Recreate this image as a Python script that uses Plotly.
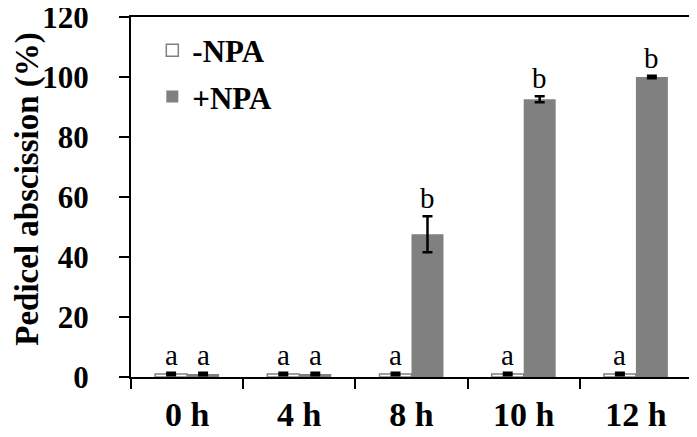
import plotly.graph_objects as go

categories = ["0 h", "4 h", "8 h", "10 h", "12 h"]
minus_npa = [1.0, 1.0, 1.0, 1.0, 1.0]
minus_err = [0.4, 0.4, 0.4, 0.4, 0.4]
plus_npa = [1.0, 1.0, 47.6, 92.6, 100.0]
plus_err = [0.4, 0.4, 6.0, 1.0, 0.4]
minus_letters = ["a", "a", "a", "a", "a"]
plus_letters = ["a", "a", "b", "b", "b"]
y_ticks = [0, 20, 40, 60, 80, 100, 120]
y_title = "Pedicel abscission (%)"

SERIF = "Liberation Serif, Times New Roman, serif"

fig = go.Figure()
fig.add_trace(go.Bar(
    x=categories, y=minus_npa, name="-NPA", legendgroup="m",
    marker=dict(color="white", line=dict(color="#808080", width=1.5)),
    error_y=dict(type="data", array=minus_err, color="black", thickness=2.5, width=5),
))
fig.add_trace(go.Bar(
    x=categories, y=plus_npa, name="+NPA", legendgroup="p",
    marker=dict(color="#808080", line=dict(width=0)),
    error_y=dict(type="data", array=plus_err, color="black", thickness=2.5, width=5),
))

for i, c in enumerate(categories):
    fig.add_annotation(x=c, y=minus_npa[i] + minus_err[i], text=minus_letters[i],
                       xref="x", yref="y", xshift=-16, yshift=0, yanchor="bottom",
                       showarrow=False, font=dict(family=SERIF, size=29, color="black"))
    fig.add_annotation(x=c, y=plus_npa[i] + plus_err[i], text=plus_letters[i],
                       xref="x", yref="y", xshift=16, yshift=0, yanchor="bottom",
                       showarrow=False, font=dict(family=SERIF, size=29, color="black"))

# y-axis title as a rotated annotation so it can sit closer to the page edge
fig.add_annotation(text=y_title, xref="paper", yref="paper",
                   x=-0.186, y=0.522, xanchor="center", yanchor="middle",
                   textangle=-90, showarrow=False, borderpad=0,
                   font=dict(family=SERIF, size=33, color="black", weight="bold"))

fig.update_layout(
    width=689, height=429,
    margin=dict(l=123, r=5, t=9, b=60, autoexpand=False),
    paper_bgcolor="white", plot_bgcolor="white",
    barmode="group", bargap=0.43, bargroupgap=0,
    font=dict(family=SERIF, color="black"),
    showlegend=True,
    legend=dict(x=0.038, y=0.982, xanchor="left", yanchor="top",
                bgcolor="rgba(0,0,0,0)", tracegroupgap=3,
                traceorder="grouped",
                font=dict(family=SERIF, size=31, color="black", weight="bold"),
                itemwidth=30),
    xaxis=dict(
        type="category", showline=True, linecolor="black", linewidth=2,
        mirror=True, ticks="outside", ticklen=10, tickwidth=2, tickcolor="black",
        tickson="boundaries", showgrid=False, automargin=False,
        ticklabelstandoff=6, ticklabeloverflow="allow",
        tickfont=dict(family=SERIF, size=34, color="black", weight="bold"),
    ),
    yaxis=dict(
        range=[0, 120], tickvals=y_ticks, showline=True, linecolor="black",
        linewidth=2, mirror=True, ticks="outside", ticklen=10, tickwidth=2,
        tickcolor="black", showgrid=False, zeroline=False, automargin=False,
        ticklabelstandoff=24, ticklabeloverflow="allow",
        tickfont=dict(family=SERIF, size=31, color="black", weight="bold"),
    ),
)

fig.write_html("out.html")
